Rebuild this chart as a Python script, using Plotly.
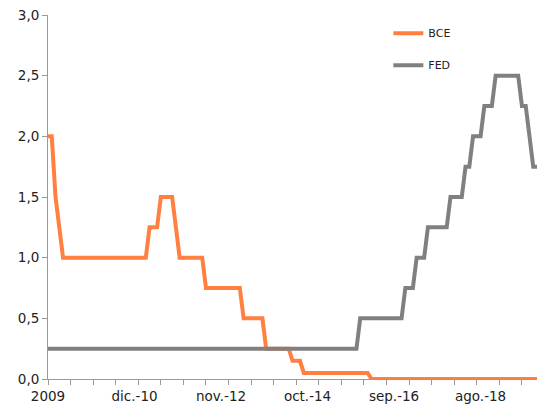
import plotly.graph_objects as go
import pandas as pd

# Monthly categories: Jan 2009 .. Nov 2019
months = pd.date_range("2009-01-01", "2019-11-01", freq="MS").strftime("%Y-%m").tolist()

bce = [
    2.0, 2.0, 1.5, 1.25, 1.0, 1.0, 1.0, 1.0, 1.0, 1.0, 1.0, 1.0,          # 2009
    1.0, 1.0, 1.0, 1.0, 1.0, 1.0, 1.0, 1.0, 1.0, 1.0, 1.0, 1.0,           # 2010
    1.0, 1.0, 1.0, 1.25, 1.25, 1.25, 1.5, 1.5, 1.5, 1.5, 1.25, 1.0,       # 2011
    1.0, 1.0, 1.0, 1.0, 1.0, 1.0, 0.75, 0.75, 0.75, 0.75, 0.75, 0.75,     # 2012
    0.75, 0.75, 0.75, 0.75, 0.5, 0.5, 0.5, 0.5, 0.5, 0.5, 0.25, 0.25,     # 2013
    0.25, 0.25, 0.25, 0.25, 0.25, 0.15, 0.15, 0.15, 0.05, 0.05, 0.05, 0.05,  # 2014
    0.05, 0.05, 0.05, 0.05, 0.05, 0.05, 0.05, 0.05, 0.05, 0.05, 0.05, 0.05,  # 2015
    0.05, 0.05, 0.0, 0.0, 0.0, 0.0, 0.0, 0.0, 0.0, 0.0, 0.0, 0.0,         # 2016
    0.0, 0.0, 0.0, 0.0, 0.0, 0.0, 0.0, 0.0, 0.0, 0.0, 0.0, 0.0,           # 2017
    0.0, 0.0, 0.0, 0.0, 0.0, 0.0, 0.0, 0.0, 0.0, 0.0, 0.0, 0.0,           # 2018
    0.0, 0.0, 0.0, 0.0, 0.0, 0.0, 0.0, 0.0, 0.0, 0.0, 0.0,                # 2019
]

fed = [
    0.25, 0.25, 0.25, 0.25, 0.25, 0.25, 0.25, 0.25, 0.25, 0.25, 0.25, 0.25,  # 2009
    0.25, 0.25, 0.25, 0.25, 0.25, 0.25, 0.25, 0.25, 0.25, 0.25, 0.25, 0.25,  # 2010
    0.25, 0.25, 0.25, 0.25, 0.25, 0.25, 0.25, 0.25, 0.25, 0.25, 0.25, 0.25,  # 2011
    0.25, 0.25, 0.25, 0.25, 0.25, 0.25, 0.25, 0.25, 0.25, 0.25, 0.25, 0.25,  # 2012
    0.25, 0.25, 0.25, 0.25, 0.25, 0.25, 0.25, 0.25, 0.25, 0.25, 0.25, 0.25,  # 2013
    0.25, 0.25, 0.25, 0.25, 0.25, 0.25, 0.25, 0.25, 0.25, 0.25, 0.25, 0.25,  # 2014
    0.25, 0.25, 0.25, 0.25, 0.25, 0.25, 0.25, 0.25, 0.25, 0.25, 0.25, 0.5,   # 2015
    0.5, 0.5, 0.5, 0.5, 0.5, 0.5, 0.5, 0.5, 0.5, 0.5, 0.5, 0.75,             # 2016
    0.75, 0.75, 1.0, 1.0, 1.0, 1.25, 1.25, 1.25, 1.25, 1.25, 1.25, 1.5,      # 2017
    1.5, 1.5, 1.5, 1.75, 1.75, 2.0, 2.0, 2.0, 2.25, 2.25, 2.25, 2.5,         # 2018
    2.5, 2.5, 2.5, 2.5, 2.5, 2.5, 2.25, 2.25, 2.0, 1.75, 1.75,               # 2019
]

tick_label_months = ["2009-01", "2010-12", "2012-11", "2014-10", "2016-09", "2018-08"]
tick_labels = ["2009", "dic.-10", "nov.-12", "oct.-14", "sep.-16", "ago.-18"]
tick_mark_step = 6  # months between axis tick marks

x = list(range(len(months)))
tickvals = [months.index(m) for m in tick_label_months]

FONT = "DejaVu Sans, Verdana, sans-serif"
AXIS_COLOR = "#9a9a9a"

fig = go.Figure()
fig.add_trace(go.Scatter(x=x, y=bce, name="BCE", mode="lines", customdata=months,
                         line=dict(color="#FF8040", width=4), legendgroup="a",
                         hovertemplate="%{customdata}: %{y}<extra>BCE</extra>"))
fig.add_trace(go.Scatter(x=x, y=fed, name="FED", mode="lines", customdata=months,
                         line=dict(color="#808080", width=4), legendgroup="b",
                         hovertemplate="%{customdata}: %{y}<extra>FED</extra>"))

fig.update_layout(
    width=538, height=406,
    margin=dict(l=48, r=1, t=15, b=27, autoexpand=False),
    paper_bgcolor="white", plot_bgcolor="white",
    separators=",.",
    font=dict(family=FONT, size=13.5, color="#222222"),
    showlegend=True,
    legend=dict(x=0.696, y=0.99, xanchor="left", yanchor="top",
                font=dict(family=FONT, size=11, color="#222222"),
                bgcolor="rgba(0,0,0,0)", traceorder="grouped", tracegroupgap=13),
    xaxis=dict(
        range=[0, len(months) - 1], showgrid=False, zeroline=False, automargin=False,
        showline=True, linecolor=AXIS_COLOR, linewidth=1,
        tickmode="array", tickvals=tickvals, ticktext=tick_labels,
        ticks="", ticklabelstandoff=5, ticklabeloverflow="allow",
        tickfont=dict(size=13.5),
        minor=dict(tickmode="linear", tick0=0, dtick=tick_mark_step,
                   ticks="outside", ticklen=5, tickcolor=AXIS_COLOR, showgrid=False),
    ),
    yaxis=dict(
        range=[0, 3], dtick=0.5, tickformat=".1f", showgrid=False, zeroline=False,
        automargin=False, ticklabeloverflow="allow",
        showline=True, linecolor=AXIS_COLOR, linewidth=1,
        ticks="outside", ticklen=5, tickcolor=AXIS_COLOR, tickfont=dict(size=13.5),
    ),
)

# Remove the browser's default 8px body margin so the 538x406 figure fills the window.
fig.write_html("out.html", config={"displayModeBar": False},
               post_script="document.body.style.margin='0';")
